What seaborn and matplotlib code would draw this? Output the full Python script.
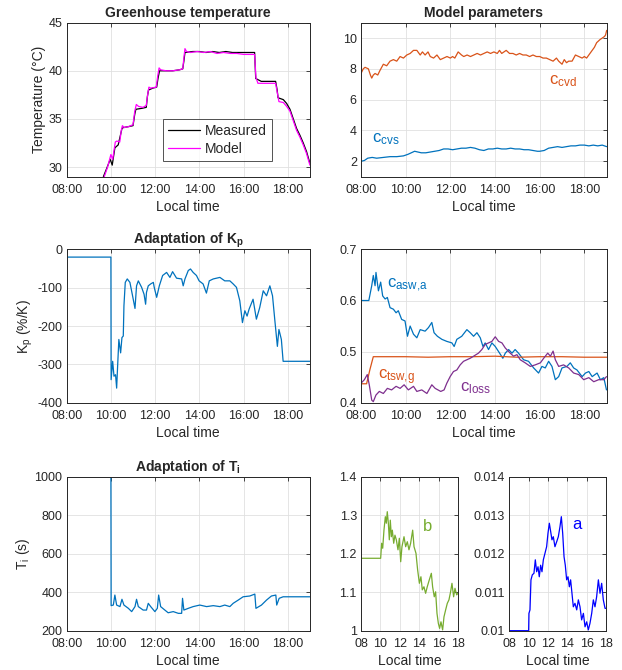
import matplotlib
matplotlib.use("Agg")
import matplotlib.pyplot as plt
import seaborn as sns

# ---- data ----
# greenhouse temperature
t_meas = [9.66, 9.8, 9.97, 10.06, 10.18, 10.33, 10.42, 10.5, 10.56, 10.8, 11.0, 11.08, 11.13, 11.4, 11.6, 11.65, 11.7, 11.9,
          12.07, 12.13, 12.2, 12.5, 12.8, 13.1, 13.25, 13.3, 13.35, 13.7, 14.0, 14.3, 14.6, 14.9, 15.2, 15.5, 15.8, 16.1, 16.4,
          16.5, 16.55, 16.8, 17.1, 17.45, 17.52, 17.56, 17.8, 17.95, 18.1, 18.25, 18.4, 18.55, 18.7, 18.85, 19.0]
temp_meas = [29.0, 29.8, 30.8, 30.2, 32.0, 32.3, 33.2, 34.0, 34.1, 34.2, 34.3, 35.5, 36.0, 36.1, 36.2, 37.3, 38.0, 38.2,
             38.3, 39.2, 40.0, 40.0, 40.0, 40.1, 40.2, 41.0, 41.9, 42.0, 42.0, 41.9, 42.0, 41.9, 42.0, 41.9, 41.9, 41.9, 41.9,
             41.9, 39.2, 38.9, 38.9, 38.9, 38.0, 37.2, 37.0, 36.6, 36.0, 35.0, 34.0, 33.3, 32.5, 31.6, 30.4]
t_model = [9.7, 9.85, 10.0, 10.08, 10.2, 10.27, 10.4, 10.47, 10.52, 10.6, 10.8, 11.0, 11.08, 11.15, 11.25, 11.45, 11.6, 11.66,
           11.72, 11.8, 12.05, 12.12, 12.18, 12.25, 12.5, 12.8, 13.1, 13.25, 13.3, 13.35, 13.42, 13.6, 13.9, 14.2, 14.5, 14.8,
           15.1, 15.4, 15.7, 16.0, 16.3, 16.5, 16.56, 16.65, 16.9, 17.2, 17.45, 17.52, 17.6, 17.8, 17.95, 18.1, 18.25, 18.4,
           18.55, 18.7, 18.85, 19.0]
temp_model = [29.0, 30.0, 31.3, 30.8, 32.6, 32.7, 32.6, 33.8, 34.3, 34.1, 34.2, 34.4, 35.8, 36.5, 36.3, 36.2, 36.4, 37.5,
              38.3, 38.2, 38.3, 39.5, 40.3, 40.1, 40.0, 40.0, 40.1, 40.2, 41.3, 42.3, 42.0, 41.9, 42.0, 41.9, 42.0, 41.8,
              41.9, 41.8, 41.8, 41.7, 41.7, 41.7, 39.3, 38.7, 38.7, 38.7, 38.7, 37.8, 36.8, 36.7, 36.3, 35.8, 34.8, 33.8,
              33.1, 32.3, 31.4, 30.2]

# model parameters c_cvd / c_cvs
t_cvd = [8.0, 8.1, 8.18, 8.33, 8.42, 8.48, 8.55, 8.63, 8.75, 8.85, 9.0, 9.15, 9.3, 9.45, 9.6, 9.75, 9.9, 10.05, 10.2, 10.35,
         10.5, 10.65, 10.75, 10.87, 11.0, 11.1, 11.25, 11.4, 11.55, 11.7, 11.85, 12.0, 12.1, 12.2, 12.35, 12.5, 12.6, 12.75,
         12.9, 13.05, 13.2, 13.35, 13.5, 13.65, 13.8, 13.95, 14.1, 14.2, 14.3, 14.4, 14.5, 14.65, 14.8, 14.95, 15.1, 15.25,
         15.4, 15.55, 15.7, 15.85, 16.0, 16.15, 16.3, 16.45, 16.6, 16.75, 16.85, 17.0, 17.1, 17.2, 17.3, 17.45, 17.6, 17.75,
         17.9, 18.0, 18.1, 18.2, 18.35, 18.45, 18.55, 18.7, 18.8, 18.9, 18.95, 19.0]
c_cvd = [7.7, 8.0, 8.1, 8.0, 7.6, 7.4, 7.6, 7.7, 7.6, 7.9, 8.3, 8.2, 8.5, 8.6, 8.5, 8.8, 8.7, 8.9, 9.0, 9.2,
         9.2, 8.9, 9.1, 8.9, 9.1, 8.8, 8.7, 8.9, 8.6, 8.7, 8.8, 8.7, 8.8, 8.7, 9.1, 8.9, 8.8, 8.9,
         8.8, 8.9, 9.0, 8.9, 9.0, 9.1, 9.0, 9.1, 9.0, 9.2, 9.0, 9.1, 9.2, 9.0, 9.0, 8.9, 9.0, 8.9,
         8.9, 8.8, 8.9, 8.8, 8.8, 8.7, 8.7, 8.6, 8.5, 8.7, 8.5, 8.3, 8.6, 8.4, 8.5, 8.5, 8.9, 8.8,
         8.7, 8.8, 8.7, 8.9, 9.2, 9.4, 9.7, 9.9, 10.0, 10.1, 10.2, 10.5]
t_cvs = [8.0, 8.15, 8.3, 8.5, 8.7, 9.0, 9.3, 9.6, 9.9, 10.1, 10.25, 10.4, 10.55, 10.7, 10.9, 11.1, 11.3, 11.5, 11.7, 11.9,
         12.1, 12.3, 12.5, 12.7, 12.9, 13.1, 13.3, 13.5, 13.7, 13.9, 14.1, 14.3, 14.5, 14.7, 14.9, 15.1, 15.3, 15.5, 15.7,
         15.9, 16.0, 16.2, 16.4, 16.6, 16.8, 17.0, 17.2, 17.4, 17.6, 17.8, 18.0, 18.2, 18.4, 18.6, 18.8, 19.0]
c_cvs = [2.0, 2.05, 2.2, 2.25, 2.2, 2.25, 2.3, 2.3, 2.35, 2.45, 2.55, 2.65, 2.6, 2.55, 2.55, 2.6, 2.65, 2.7, 2.8, 2.8,
         2.75, 2.8, 2.85, 2.85, 2.9, 2.85, 2.75, 2.7, 2.8, 2.8, 2.85, 2.8, 2.8, 2.85, 2.8, 2.8, 2.75, 2.75, 2.7,
         2.65, 2.65, 2.7, 2.85, 2.9, 2.95, 2.9, 2.95, 3.0, 3.0, 3.05, 3.05, 3.0, 3.05, 3.0, 3.05, 2.95]

# Kp adaptation
t_kp = [8.0, 10.0, 10.01, 10.08, 10.14, 10.21, 10.26, 10.3, 10.36, 10.44, 10.5, 10.56, 10.59, 10.65, 10.74, 10.86, 10.98,
        11.09, 11.16, 11.24, 11.39, 11.5, 11.57, 11.61, 11.69, 11.8, 11.92, 11.96, 12.07, 12.19, 12.34, 12.52, 12.67, 12.79,
        12.97, 13.2, 13.27, 13.35, 13.5, 13.6, 13.72, 13.87, 13.99, 14.17, 14.32, 14.45, 14.63, 14.93, 15.15, 15.38, 15.53,
        15.68, 15.83, 15.95, 16.06, 16.16, 16.25, 16.43, 16.58, 16.73, 16.89, 17.04, 17.19, 17.31, 17.41, 17.53, 17.6,
        17.71, 17.79, 19.0]
kp = [-20, -20, -340, -292, -331, -327, -362, -310, -235, -270, -230, -226, -147, -86, -77, -86, -121,
      -154, -95, -82, -99, -117, -143, -112, -95, -90, -86, -99, -125, -95, -68, -60, -73, -58,
      -75, -77, -95, -77, -55, -51, -60, -68, -82, -90, -114, -82, -77, -73, -82, -82, -90,
      -99, -134, -191, -160, -174, -156, -130, -182, -152, -108, -121, -95, -121, -182, -253, -209,
      -235, -292, -292]

# c_asw,a / c_tsw,g / c_loss
t_asw = [8.0, 8.35, 8.48, 8.55, 8.63, 8.67, 8.78, 8.88, 8.97, 9.08, 9.18, 9.3, 9.45, 9.57, 9.67, 9.82, 9.97, 10.08, 10.2,
         10.35, 10.5, 10.65, 10.87, 11.02, 11.17, 11.27, 11.42, 11.62, 11.84, 12.07, 12.17, 12.29, 12.51, 12.74, 12.89,
         13.04, 13.19, 13.34, 13.46, 13.56, 13.71, 13.86, 14.01, 14.16, 14.35, 14.46, 14.61, 14.76, 14.9, 15.05, 15.28,
         15.5, 15.73, 15.95, 16.1, 16.25, 16.4, 16.55, 16.7, 16.85, 17.0, 17.22, 17.37, 17.52, 17.67, 17.9, 18.05, 18.2,
         18.35, 18.57, 18.72, 18.87, 18.99]
c_asw = [0.6, 0.6, 0.629, 0.649, 0.629, 0.655, 0.619, 0.636, 0.609, 0.603, 0.606, 0.586, 0.583, 0.576, 0.58, 0.563, 0.56,
         0.53, 0.55, 0.534, 0.527, 0.543, 0.54, 0.547, 0.557, 0.537, 0.53, 0.524, 0.52, 0.517, 0.51, 0.524, 0.53, 0.543,
         0.537, 0.53, 0.537, 0.527, 0.51, 0.517, 0.504, 0.517, 0.51, 0.5, 0.487, 0.497, 0.504, 0.497, 0.504, 0.497, 0.484,
         0.481, 0.468, 0.458, 0.471, 0.468, 0.481, 0.471, 0.445, 0.451, 0.468, 0.471, 0.478, 0.468, 0.464, 0.451, 0.458,
         0.461, 0.451, 0.458, 0.445, 0.449, 0.425]
t_tsw = [8.0, 8.25, 8.4, 8.55, 9.0, 10.0, 11.0, 12.0, 13.0, 14.0, 15.0, 16.0, 17.0, 18.0, 19.0]
c_tsw = [0.437, 0.437, 0.465, 0.49, 0.49, 0.49, 0.489, 0.49, 0.49, 0.491, 0.489, 0.49, 0.49, 0.489, 0.489]
t_loss = [8.0, 8.15, 8.28, 8.37, 8.48, 8.55, 8.67, 8.82, 9.0, 9.18, 9.37, 9.57, 9.75, 9.93, 10.12, 10.35, 10.5, 10.72,
          10.95, 11.17, 11.32, 11.57, 11.72, 11.84, 11.99, 12.14, 12.29, 12.44, 12.59, 12.74, 12.89, 13.04, 13.26, 13.41,
          13.56, 13.71, 13.86, 14.01, 14.16, 14.31, 14.46, 14.68, 14.83, 14.98, 15.13, 15.35, 15.58, 15.8, 16.03, 16.18,
          16.36, 16.48, 16.6, 16.7, 16.85, 17.07, 17.3, 17.52, 17.75, 17.97, 18.2, 18.42, 18.64, 18.87, 18.99]
c_loss = [0.438, 0.445, 0.455, 0.435, 0.405, 0.402, 0.415, 0.422, 0.418, 0.428, 0.425, 0.432, 0.428, 0.435, 0.425, 0.432,
          0.422, 0.425, 0.418, 0.435, 0.428, 0.422, 0.425, 0.438, 0.451, 0.461, 0.464, 0.474, 0.481, 0.484, 0.487, 0.491,
          0.497, 0.504, 0.514, 0.517, 0.52, 0.529, 0.52, 0.517, 0.507, 0.497, 0.491, 0.494, 0.484, 0.478, 0.471, 0.474,
          0.478, 0.487, 0.497, 0.491, 0.501, 0.484, 0.471, 0.474, 0.468, 0.458, 0.455, 0.445, 0.449, 0.441, 0.445, 0.445,
          0.451]

# Ti adaptation
t_ti = [8.0, 10.0, 10.01, 10.11, 10.18, 10.26, 10.41, 10.5, 10.59, 10.79, 10.94, 11.09, 11.16, 11.24, 11.46, 11.61, 11.69,
        11.8, 11.99, 12.1, 12.16, 12.25, 12.44, 12.59, 12.82, 13.05, 13.2, 13.24, 13.3, 13.5, 13.72, 14.02, 14.33, 14.63,
        14.93, 15.15, 15.38, 15.53, 15.76, 15.98, 16.28, 16.51, 16.56, 16.81, 17.04, 17.26, 17.46, 17.5, 17.61, 17.79, 19.0]
ti = [1000, 1000, 330, 333, 385, 333, 325, 363, 333, 316, 299, 325, 363, 325, 307, 307, 342,
      325, 299, 316, 385, 325, 307, 293, 299, 290, 290, 368, 307, 316, 325, 333, 325, 330,
      325, 333, 325, 342, 359, 376, 380, 390, 316, 333, 359, 380, 385, 333, 368, 376, 376]

# b and a
t_b = [8.0, 10.02, 10.12, 10.23, 10.36, 10.5, 10.6, 10.7, 10.81, 10.91, 11.01, 11.12, 11.22, 11.36, 11.49, 11.63, 11.8,
       11.94, 12.08, 12.21, 12.42, 12.59, 12.76, 12.93, 13.1, 13.31, 13.45, 13.65, 13.82, 14.0, 14.16, 14.3, 14.47, 14.64,
       14.81, 15.02, 15.23, 15.36, 15.53, 15.67, 15.81, 15.95, 16.08, 16.22, 16.39, 16.53, 16.7, 16.87, 17.04, 17.21,
       17.35, 17.52, 17.66, 17.83, 17.97]
b_par = [1.188, 1.188, 1.227, 1.214, 1.261, 1.296, 1.279, 1.309, 1.279, 1.236, 1.287, 1.244, 1.261, 1.227, 1.248, 1.236,
         1.21, 1.24, 1.179, 1.218, 1.244, 1.218, 1.231, 1.21, 1.227, 1.261, 1.218, 1.201, 1.158, 1.123, 1.14, 1.106, 1.114,
         1.097, 1.114, 1.132, 1.149, 1.114, 1.088, 1.101, 1.045, 1.019, 1.006, 1.023, 1.002, 1.036, 1.054, 1.071, 1.08,
         1.101, 1.123, 1.088, 1.11, 1.093, 1.097]
t_a = [8.0, 10.0, 10.03, 10.14, 10.24, 10.38, 10.55, 10.69, 10.83, 10.97, 11.1, 11.24, 11.38, 11.52, 11.69, 11.86, 12.0,
       12.14, 12.28, 12.41, 12.55, 12.72, 12.9, 13.07, 13.24, 13.38, 13.52, 13.66, 13.79, 13.93, 14.07, 14.21, 14.34, 14.48,
       14.62, 14.79, 14.97, 15.14, 15.31, 15.48, 15.66, 15.83, 16.0, 16.17, 16.34, 16.52, 16.69, 16.86, 17.03, 17.21,
       17.38, 17.55, 17.72, 17.9, 18.0]
a_par = [0.01, 0.01, 0.01045, 0.01054, 0.01132, 0.01145, 0.01149, 0.01184, 0.01153, 0.01166, 0.0114, 0.0117, 0.01153,
         0.01184, 0.01201, 0.01218, 0.01253, 0.01279, 0.01257, 0.01236, 0.01244, 0.01218, 0.01231, 0.01244, 0.0127,
         0.01296, 0.01253, 0.01192, 0.0117, 0.01132, 0.0114, 0.01114, 0.01132, 0.01097, 0.01062, 0.01071, 0.01054,
         0.0108, 0.01062, 0.01028, 0.01045, 0.0101, 0.01023, 0.01002, 0.01019, 0.01045, 0.0108, 0.01062, 0.01088,
         0.01132, 0.01097, 0.01123, 0.0108, 0.01058, 0.01058]

time_ticks = [8, 10, 12, 14, 16, 18]
time_labels = ["08:00", "10:00", "12:00", "14:00", "16:00", "18:00"]
short_labels = ["08", "10", "12", "14", "16", "18"]

# ---- style ----
sns.set_style("whitegrid")
plt.rcParams['font.family'] = ['Liberation Sans', 'DejaVu Sans']
plt.rcParams['mathtext.fontset'] = 'custom'
plt.rcParams['mathtext.rm'] = 'Liberation Sans'
plt.rcParams['mathtext.bf'] = 'Liberation Sans:bold'
plt.rcParams['mathtext.default'] = 'regular'
plt.rcParams['axes.unicode_minus'] = False

BLUE = "#0072BD"
ORANGE = "#D95319"
PURPLE = "#7E2F8E"
GREEN = "#77AC30"
TXT = "#262626"


def style(ax, xlim, xt, xl, ylim, yt, yl, ylabel=None, title=None):
    ax.set_xlim(xlim)
    ax.set_ylim(ylim)
    ax.set_xticks(xt)
    ax.set_xticklabels(xl)
    ax.set_yticks(yt)
    ax.set_yticklabels(yl)
    ax.set_xlabel("Local time", fontsize=10, color=TXT, labelpad=3)
    ax.set_ylabel(ylabel if ylabel else "", fontsize=10, color=TXT, labelpad=2)
    if title:
        ax.set_title(title, fontsize=10, fontweight="bold", pad=4)
    ax.grid(True, color="#E0E0E0", linewidth=0.6)
    ax.tick_params(direction="in", length=3, width=0.6, labelsize=9, colors=TXT,
                   top=True, right=True)
    ax.tick_params(axis="x", pad=5)
    ax.tick_params(axis="y", pad=3)
    for s in ax.spines.values():
        s.set_color(TXT)
        s.set_linewidth(0.7)


fig = plt.figure(figsize=(6.22, 6.70), dpi=100)
ax1 = fig.add_axes([0.1072, 0.7363, 0.391, 0.2299])
ax2 = fig.add_axes([0.5804, 0.7363, 0.395, 0.2299])
ax3 = fig.add_axes([0.1072, 0.3990, 0.391, 0.2287])
ax4 = fig.add_axes([0.5804, 0.3990, 0.395, 0.2287])
ax5 = fig.add_axes([0.1072, 0.0587, 0.391, 0.2299])
ax6 = fig.add_axes([0.5804, 0.0587, 0.1564, 0.2299])
ax7 = fig.add_axes([0.8188, 0.0587, 0.1555, 0.2299])

lw = 0.9

# greenhouse temperature
sns.lineplot(x=t_meas, y=temp_meas, ax=ax1, color="black", linewidth=lw, estimator=None, sort=False, label="Measured")
sns.lineplot(x=t_model, y=temp_model, ax=ax1, color="#FF00FF", linewidth=lw, estimator=None, sort=False, label="Model")
style(ax1, (8, 19), time_ticks, time_labels, (29, 45), [30, 35, 40, 45], ["30", "35", "40", "45"],
      ylabel="Temperature (°C)", title="Greenhouse temperature")
leg = ax1.legend(loc="lower left", bbox_to_anchor=(0.396, 0.105), fontsize=10, frameon=True, fancybox=False,
                 handlelength=2.3, borderpad=0.35, labelspacing=0.25, handletextpad=0.4, borderaxespad=0)
leg.get_frame().set_edgecolor(TXT)
leg.get_frame().set_linewidth(0.7)

# model parameters
sns.lineplot(x=t_cvd, y=c_cvd, ax=ax2, color=ORANGE, linewidth=lw, estimator=None, sort=False)
sns.lineplot(x=t_cvs, y=c_cvs, ax=ax2, color=BLUE, linewidth=lw, estimator=None, sort=False)
style(ax2, (8, 19), time_ticks, time_labels, (1, 11), [2, 4, 6, 8, 10], ["2", "4", "6", "8", "10"],
      title="Model parameters")
ax2.text(16.4, 7.0, r"c$_{cvd}$", color=ORANGE, fontsize=12)
ax2.text(8.5, 3.2, r"c$_{cvs}$", color=BLUE, fontsize=12)

# Kp
sns.lineplot(x=t_kp, y=kp, ax=ax3, color=BLUE, linewidth=lw, estimator=None, sort=False)
style(ax3, (8, 19), time_ticks, time_labels, (-400, 0), [-400, -300, -200, -100, 0],
      ["-400", "-300", "-200", "-100", "0"], ylabel=r"K$_p$ (%/K)", title=r"Adaptation of K$_\mathbf{p}$")

# c_asw,a, c_tsw,g, c_loss
sns.lineplot(x=t_asw, y=c_asw, ax=ax4, color=BLUE, linewidth=lw, estimator=None, sort=False)
sns.lineplot(x=t_tsw, y=c_tsw, ax=ax4, color=ORANGE, linewidth=lw, estimator=None, sort=False)
sns.lineplot(x=t_loss, y=c_loss, ax=ax4, color=PURPLE, linewidth=lw, estimator=None, sort=False)
style(ax4, (8, 19), time_ticks, time_labels, (0.4, 0.7), [0.4, 0.5, 0.6, 0.7], ["0.4", "0.5", "0.6", "0.7"])
ax4.text(9.15, 0.625, r"c$_{asw{,}a}$", color=BLUE, fontsize=12)
ax4.text(8.75, 0.445, r"c$_{tsw{,}g}$", color=ORANGE, fontsize=12)
ax4.text(12.45, 0.422, r"c$_{loss}$", color=PURPLE, fontsize=12)

# Ti
sns.lineplot(x=t_ti, y=ti, ax=ax5, color=BLUE, linewidth=lw, estimator=None, sort=False)
style(ax5, (8, 19), time_ticks, time_labels, (200, 1000), [200, 400, 600, 800, 1000],
      ["200", "400", "600", "800", "1000"], ylabel=r"T$_i$ (s)", title=r"Adaptation of T$_\mathbf{i}$")

# b
sns.lineplot(x=t_b, y=b_par, ax=ax6, color=GREEN, linewidth=lw, estimator=None, sort=False)
style(ax6, (8, 18), time_ticks, short_labels, (1, 1.4), [1, 1.1, 1.2, 1.3, 1.4], ["1", "1.1", "1.2", "1.3", "1.4"])
ax6.text(14.4, 1.26, "b", color=GREEN, fontsize=12)

# a
sns.lineplot(x=t_a, y=a_par, ax=ax7, color="blue", linewidth=lw, estimator=None, sort=False)
style(ax7, (8, 18), time_ticks, short_labels, (0.01, 0.014), [0.01, 0.011, 0.012, 0.013, 0.014],
      ["0.01", "0.011", "0.012", "0.013", "0.014"])
ax7.text(14.5, 0.01265, "a", color="blue", fontsize=12)

fig.savefig("out.png", dpi=100)
